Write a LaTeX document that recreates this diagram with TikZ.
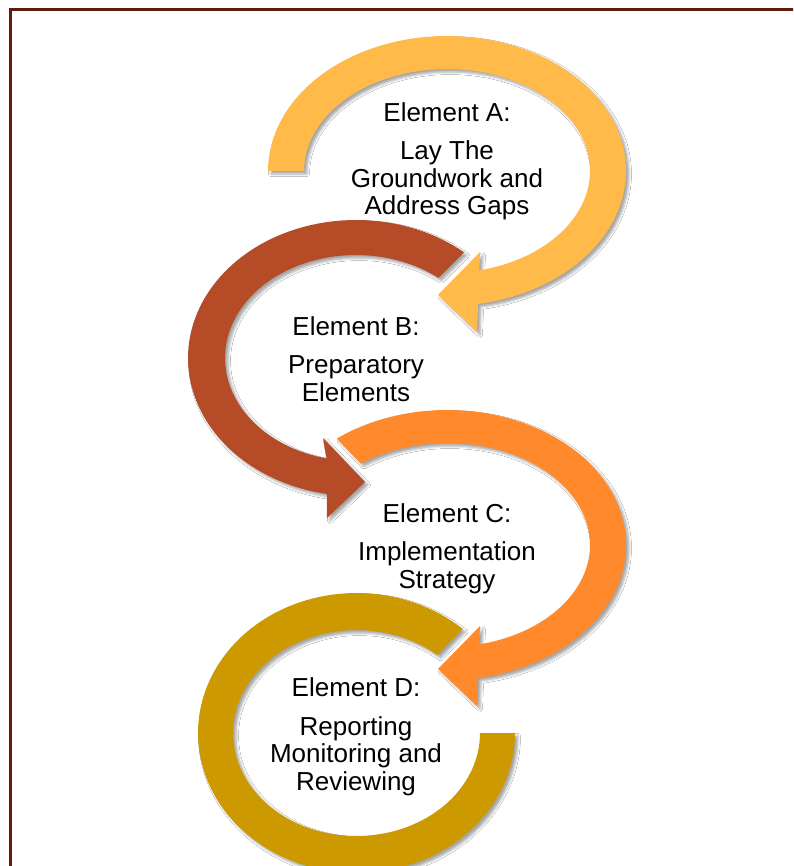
\documentclass[tikz,border=0pt]{standalone}
\usepackage{fontspec}
\setmainfont{Liberation Sans}
\usetikzlibrary{shadows.blur}
\definecolor{cA}{RGB}{255,186,74}
\definecolor{cB}{RGB}{182,75,40}
\definecolor{cC}{RGB}{255,137,43}
\definecolor{cD}{RGB}{204,153,0}
\definecolor{framecol}{RGB}{96,28,12}
\begin{document}
\begin{tikzpicture}[x=1pt,y=-1pt,
  band/.style={fill=#1, draw=none, blur shadow={shadow xshift=3pt, shadow yshift=-3pt, shadow blur radius=2.5pt, shadow opacity=35}},
  txt/.style={font=\fontsize{26}{27.5}\selectfont, align=center, anchor=base, inner sep=0pt}]
\useasboundingbox (0,0) rectangle (793,866);
\clip (0,0) rectangle (793,866);
\fill[white] (0,0) rectangle (793,866);
\draw[framecol, line width=2.6pt] (10.7,880) -- (10.7,9.7) -- (810,9.7);

% Element A arrow
\path[band=cA] plot[domain=180:440, samples=100] ({447+179*cos(\x)},{171+135*sin(\x)})
  -- (477,332) -- (438,295) -- (480,252)
  -- plot[domain=437:180, samples=100] ({447+143*cos(\x)},{171+102*sin(\x)}) -- cycle;

% Element B arrow
\path[band=cB] plot[domain=-50:-260, samples=100] ({356+168*cos(\x)},{358+138*sin(\x)})
  -- (327,518) -- (365,482) -- (323,438)
  -- plot[domain=-257:-51, samples=100] ({356+131*cos(\x)},{358+103*sin(\x)}) -- cycle;

% Element C arrow
\path[band=cC] plot[domain=232:440, samples=100] ({447+179*cos(\x)},{545+135*sin(\x)})
  -- (477,706) -- (438,669) -- (480,626)
  -- plot[domain=437:233, samples=100] ({447+143*cos(\x)},{545+102*sin(\x)}) -- cycle;

% Element D ring
\path[band=cD] plot[domain=-48:-360, samples=120] ({356.5+158.5*cos(\x)},{733+140*sin(\x)})
  -- plot[domain=-360:-49, samples=120] ({356.5+123.5*cos(\x)},{733+103*sin(\x)}) -- cycle;

\node[txt] (tA) at (447,215) {Element A:\\[11pt]Lay The\\Groundwork and\\Address Gaps};
\node[txt] (tB) at (356,401) {Element B:\\[11pt]Preparatory\\Elements};
\node[txt] (tC) at (447,588) {Element C:\\[11pt]Implementation\\Strategy};
\node[txt] (tD) at (356,790) {Element D:\\[11pt]Reporting\\Monitoring and\\Reviewing};
\end{tikzpicture}
\end{document}
